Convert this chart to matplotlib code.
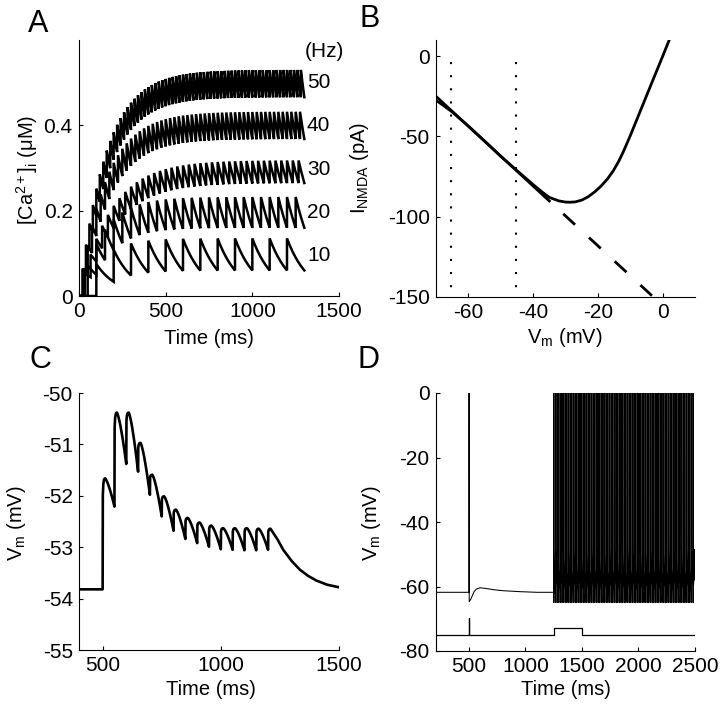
import numpy as np
import matplotlib
matplotlib.use("Agg")
import matplotlib.pyplot as plt

plt.rcParams['font.family'] = ['Liberation Sans', 'DejaVu Sans']
plt.rcParams['mathtext.fontset'] = 'custom'
plt.rcParams['mathtext.rm'] = 'Liberation Sans'
plt.rcParams['mathtext.it'] = 'Liberation Sans:italic'
plt.rcParams['mathtext.bf'] = 'Liberation Sans:bold'
plt.rcParams['mathtext.sf'] = 'Liberation Sans'
plt.rcParams['axes.unicode_minus'] = False

FS = 14.5
TFS = 15

# ---------------- Panel A data ----------------
a_freqs = [10, 20, 30, 40, 50]
a_peak = [0.135, 0.232, 0.318, 0.432, 0.530]      # plateau peak (uM)
a_trough = [0.060, 0.160, 0.265, 0.368, 0.466]    # plateau trough (uM)
a_t_end = 1300.0
a_label_text = ['10', '20', '30', '40', '50']
a_label_y = [0.096, 0.195, 0.296, 0.400, 0.501]
a_xticks = [0, 500, 1000, 1500]
a_yticks = [0, 0.2, 0.4]
a_yticklabels = ['0', '0.2', '0.4']

# ---------------- Panel B data ----------------
b_v = [-70, -67, -65, -60, -55, -50, -45, -40, -37, -35, -32, -30, -28.6, -27,
       -25, -23, -21, -19, -17, -15.2, -13.5, -12.1, -10, -8, -6, -4, -2, 0, 2]
b_i = [-27.5, -31.8, -34.8, -43.6, -52.9, -62.4, -71.3, -80.0, -85.0, -88.0,
       -90.2, -90.9, -91.0, -90.8, -89.7, -87.6, -84.6, -80.9, -76.4, -71.3,
       -65.3, -59.4, -49.6, -39.7, -29.8, -19.9, -10.0, -0.2, 9.8]
b_lin_v = [-70.0, -35.0, -3.3]
b_lin_i = [-25.1, -90.2, -149.2]
b_dot_v = [-65.5, -45.2]
b_dot_i = [-3.7, -146.0]
b_xticks = [-60, -40, -20, 0]
b_xticklabels = ['-60', '-40', '-20', '0']
b_yticks = [0, -50, -100, -150]
b_yticklabels = ['0', '-50', '-100', '-150']

# ---------------- Panel C data ----------------
c_t_start = 400.0
c_stim_t = [500, 550, 600, 650, 700, 750, 800, 850, 900, 950, 1000, 1050, 1100, 1150, 1200]
c_pre_v = [-53.82, -52.21, -51.38, -51.53, -51.98, -52.40, -52.68, -52.84, -52.92,
           -52.99, -53.04, -53.05, -53.06, -53.06, -53.05]
c_peak_v = [-51.66, -50.38, -50.38, -50.97, -51.59, -52.01, -52.27, -52.43, -52.52,
            -52.58, -52.63, -52.63, -52.63, -52.64, -52.64]
c_rise = 10.0
c_tail_t = [1210, 1240, 1264, 1300, 1335, 1370, 1405, 1450, 1500]
c_tail_v = [-52.64, -52.85, -53.05, -53.27, -53.44, -53.56, -53.65, -53.73, -53.78]
c_xticks = [500, 1000, 1500]
c_yticks = [-55, -54, -53, -52, -51, -50]
c_yticklabels = ['-55', '-54', '-53', '-52', '-51', '-50']

# ---------------- Panel D data ----------------
d_pre_t = [208, 500, 500.6, 502, 515, 530, 545, 565, 597, 650, 720, 800, 950, 1100, 1250]
d_pre_v = [-61.8, -61.8, 0.0, -64.7, -64.0, -62.8, -61.6, -60.8, -60.4, -60.6, -61.0,
           -61.3, -61.6, -61.8, -61.8]
d_burst_start = 1250.0
d_burst_end = 2500.0
d_isi = 14.5
d_spike_peak = 0.0
d_ahp = -65.0
d_isi_v = [-61.0, -58.0, -55.0]      # interspike trajectory levels
d_thr = -48.5
d_stim_t = [208, 500, 500, 503, 503, 1250, 1250, 1500, 1500, 2500]
d_stim_v = [-75, -75, -69.9, -69.9, -75, -75, -72.8, -72.8, -75, -75]
d_xticks = [500, 1000, 1500, 2000, 2500]
d_yticks = [0, -20, -40, -60, -80]
d_yticklabels = ['0', '-20', '-40', '-60', '-80']

W, H = 720, 710
fig = plt.figure(figsize=(W / 100, H / 100), dpi=100)


def add_ax(l, r, t, b):
    ax = fig.add_axes([l / W, 1 - b / H, (r - l) / W, (b - t) / H])
    for s in ['top', 'right']:
        ax.spines[s].set_visible(False)
    for s in ['left', 'bottom']:
        ax.spines[s].set_linewidth(0.8)
    ax.tick_params(direction='in', length=3, width=0.8, labelsize=TFS, pad=4.5,
                   colors='black')
    return ax


def ftext(x, y, s, **kw):
    fig.text(x / W, 1 - y / H, s, **kw)


# ---------------- Panel A ----------------
axA = add_ax(79, 339, 40, 296)
for f, p, q in zip(a_freqs, a_peak, a_trough):
    T = 1000.0 / f
    r = q / p
    tau = -T / np.log(r)
    dc = p - q
    n = int(np.floor((a_t_end - 1e-6) / T))
    ts = [T * (k + 1) for k in range(n)]
    tt = [0.0, ts[0]]
    cc = [0.0, 0.0]
    c = 0.0
    for k, tk in enumerate(ts):
        c = c + dc
        tn = ts[k + 1] if k + 1 < len(ts) else a_t_end
        seg = np.linspace(tk, tn, 14)
        vals = c * np.exp(-(seg - tk) / tau)
        tt.extend(seg)
        cc.extend(vals)
        c = vals[-1]
    axA.plot(tt, cc, color='black', lw=1.8, solid_joinstyle='miter')
axA.set_xlim(0, 1500)
axA.set_ylim(0, 0.6)
axA.set_xticks(a_xticks)
axA.set_yticks(a_yticks, labels=a_yticklabels)
for s, y in zip(a_label_text, a_label_y):
    axA.text(1315, y, s, fontsize=TFS, ha='left', va='center', clip_on=False)
axA.text(1302, 0.574, '(Hz)', fontsize=TFS, ha='left', va='center', clip_on=False)

# ---------------- Panel B ----------------
axB = add_ax(436, 695, 40, 297)
axB.plot(b_v, b_i, color='black', lw=2.0)
axB.plot(b_lin_v[:2], b_lin_i[:2], color='black', lw=2.0)
axB.plot(b_lin_v[1:], b_lin_i[1:], color='black', lw=2.0,
         linestyle=(5.76, (5.76, 6.84)))
for v in b_dot_v:
    axB.plot([v, v], b_dot_i, color='black', lw=1.5, linestyle=(0, (1, 5.3)))
axB.set_xlim(-70, 10)
axB.set_ylim(-150, 10)
axB.set_xticks(b_xticks, labels=b_xticklabels)
axB.set_yticks(b_yticks, labels=b_yticklabels)

# ---------------- Panel C ----------------
axC = add_ax(79, 339, 393, 650)
ct = [c_t_start]
cv = [c_pre_v[0]]
for k, ts in enumerate(c_stim_t):
    q = c_pre_v[k]
    p = c_peak_v[k]
    ct += [ts, ts + 0.8, ts + 3, ts + 6, ts + c_rise]
    cv += [q, q + 0.85 * (p - q), q + 0.95 * (p - q), q + 0.99 * (p - q), p]
    if k + 1 < len(c_stim_t):
        tn = c_stim_t[k + 1]
        qn = c_pre_v[k + 1]
        u = np.linspace(0, 1, 16)[1:]
        ct += list(ts + c_rise + u * (tn - ts - c_rise))
        cv += list(qn + (p - qn) * (1 - u ** 1.4))
ct += c_tail_t[1:]
cv += c_tail_v[1:]
axC.plot(ct, cv, color='black', lw=1.9)
axC.set_xlim(400, 1500)
axC.set_ylim(-55, -50)
axC.set_xticks(c_xticks)
axC.set_yticks(c_yticks, labels=c_yticklabels)

# ---------------- Panel D ----------------
axD = add_ax(436, 695, 393, 651)
dt = list(d_pre_t)
dv = list(d_pre_v)
n_sp = int((d_burst_end - d_burst_start) // d_isi)
for k in range(n_sp):
    t0 = d_burst_start + k * d_isi
    dt += [t0 + 0.4, t0 + 0.9, t0 + 2.5, t0 + 7.0, t0 + 12.0, t0 + d_isi]
    dv += [d_spike_peak, d_ahp, d_isi_v[0], d_isi_v[1], d_isi_v[2], d_thr]
dt += [d_burst_end]
dv += [d_isi_v[1]]
axD.plot(dt, dv, color='black', lw=0.75)
axD.plot(d_stim_t, d_stim_v, color='black', lw=0.9)
axD.set_xlim(208, 2500)
axD.set_ylim(-80, 0)
axD.set_xticks(d_xticks)
axD.set_yticks(d_yticks, labels=d_yticklabels)

# ---------------- Labels ----------------
ftext(209, 344, 'Time (ms)', fontsize=FS, ha='center', va='baseline')
ftext(565, 343, r'V$_{\mathrm{m}}$ (mV)', fontsize=FS, ha='center', va='baseline')
ftext(211, 695, 'Time (ms)', fontsize=FS, ha='center', va='baseline')
ftext(566, 695, 'Time (ms)', fontsize=FS, ha='center', va='baseline')

ftext(34, 170, r'[Ca$^{\mathrm{2+}}$]$_{\mathrm{i}}$ (μM)', fontsize=FS, ha='center',
      va='baseline', rotation=90, rotation_mode='anchor')
ftext(365, 168, r'I$_{\mathrm{NMDA}}$ (pA)', fontsize=FS, ha='center',
      va='baseline', rotation=90, rotation_mode='anchor')
ftext(22, 523, r'V$_{\mathrm{m}}$ (mV)', fontsize=FS, ha='center',
      va='baseline', rotation=90, rotation_mode='anchor')
ftext(377, 523, r'V$_{\mathrm{m}}$ (mV)', fontsize=FS, ha='center',
      va='baseline', rotation=90, rotation_mode='anchor')

ftext(28, 32, 'A', fontsize=22, ha='left', va='baseline')
ftext(360, 27, 'B', fontsize=22, ha='left', va='baseline')
ftext(29.5, 368, 'C', fontsize=22, ha='left', va='baseline')
ftext(357.5, 368, 'D', fontsize=22, ha='left', va='baseline')

fig.savefig('out.png', dpi=100)
